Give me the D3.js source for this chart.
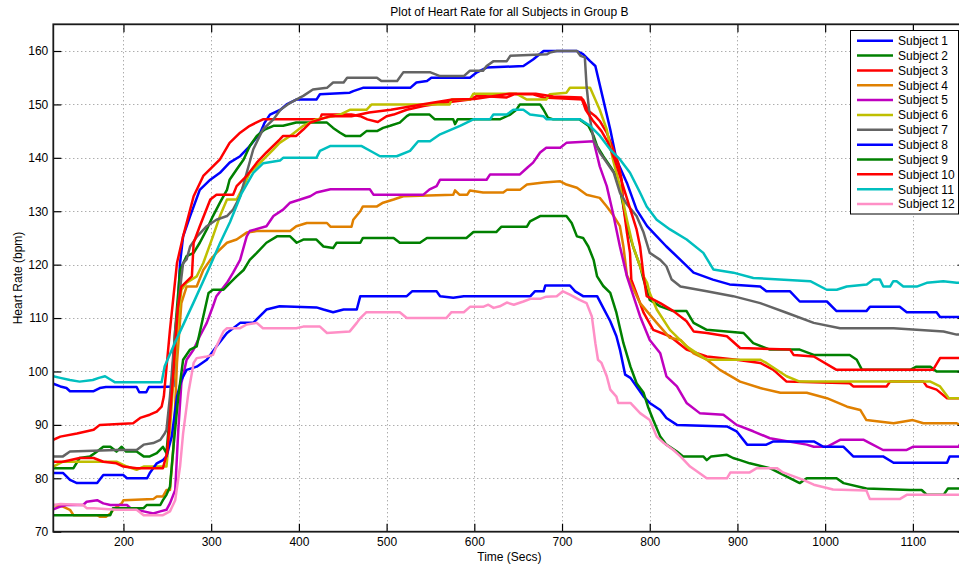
<!DOCTYPE html>
<html>
<head>
<meta charset="utf-8">
<script src="https://cdn.jsdelivr.net/npm/d3@7"></script>
<style>
  html, body { margin: 0; padding: 0; background: #fff; }
  svg { display: block; font-family: "Liberation Sans", Arial, Helvetica, sans-serif; }
</style>
</head>
<body>
<svg id="chart" width="959" height="567"></svg>
<script>
// Heart rate traces, [time in seconds, heart rate in bpm]
const subject01 = [[120,97.7],[128,97.2],[135,96.9],[139,96.3],[166,96.3],[173,96.9],[180,97.1],[215,97.1],[218,96.1],[226,96.1],[229,97.1],[242,97.1],[257,97.2],[260.7,107.8],[264.5,120.3],[268,125.3],[276,129.1],[287,134],[299,135.9],[310,137.2],[321,139.1],[333,140.3],[344,142.2],[356,144.7],[361,146.6],[367,148.1],[379,149],[386,150],[397,150.9],[420,150.9],[424,151.9],[458,152.2],[462,152.5],[473,153.1],[527,153.1],[534,154.1],[546,154.4],[551,155],[595,155],[603,156],[614,156.9],[656,157.2],[667,158.4],[679,160],[717,160],[724,159.4],[732,158.1],[738,157.2],[747,150.9],[755,145.3],[762,139.7],[774,135.3],[785,130.3],[797,127.2],[808,125.3],[819,123.4],[835,120.9],[850,118.5],[872,117.2],[891,116.3],[926,115.9],[933,115],[960,115],[971,113.1],[1002,113.1],[1013,111.3],[1047,111.3],[1051,112.1],[1085,112.1],[1093,111.1],[1127,111.1],[1131,110.2],[1160,110.2]];

const subject02 = [[120,81.9],[143,81.9],[150,83.8],[162,84.1],[170,85],[177,85.9],[185,85.9],[192,85],[198,85.9],[203,85],[215,85],[223,84.1],[230,84.1],[238,84.7],[245,85.9],[249,84.7],[253,92.2],[259,107.8],[264.5,119],[272,121.6],[280,122.2],[287,124.1],[295,126.6],[302,129.1],[310,131.6],[318,134],[321,135.9],[329,137.8],[337,139.7],[344,142.2],[352,144.1],[361,145.3],[371,146],[382,146],[397,146.6],[432,146.6],[439,145.6],[447,144.7],[453,144.1],[470,144.1],[477,145],[489,145],[496,145.6],[504,146],[515,146.6],[523,147.8],[526,148.1],[549,148.1],[555,147.2],[576,147.2],[578,146.3],[581,147.2],[629,147.2],[641,148.1],[648,149],[652,150],[675,150],[679,149],[684,147.5],[690,147.2],[720,147.2],[730,146],[736,144.1],[740,142.2],[747,140.3],[755,138.4],[762,136.6],[766,134.1],[770,130.9],[774,127.2],[781,123.4],[789,119.7],[793,117.2],[800,113.4],[812,112.2],[827,111.3],[842,111.3],[850,109.1],[865,107.8],[907,107.2],[918,105.3],[937,104.1],[971,104.1],[987,103.1],[1028,103.1],[1036,102.2],[1042,100.3],[1097,100.3],[1104,100.9],[1120,100.9],[1127,100],[1160,100]];

const subject03 = [[120,87.2],[128,87.8],[147,88.4],[166,89.1],[173,90],[211,90.3],[219,91.3],[230,91.9],[238,92.5],[243.5,93.4],[246,95.3],[253,107.8],[261,120.3],[268,125.3],[280,132.8],[291,136.6],[302,138.4],[310,139.7],[321,142.8],[333,144.7],[344,146],[359,147.2],[424,147.2],[426,148.1],[460,148.1],[470,147.8],[478,147.2],[490,146.7],[500,147.8],[508,148.1],[523,149],[542,149.7],[565,150.3],[595,150.9],[603,151.6],[637,151.3],[645,151.9],[667,151.9],[679,151.3],[724,150.9],[730,148.8],[738,147.8],[743,146.9],[751,144.7],[757,142.2],[764,139.1],[768,135.9],[770,130.9],[774,126],[777.5,122.2],[779,117.2],[793,111],[804,107.8],[823,106.6],[842,104.1],[865,102.8],[899,102.2],[926,101.6],[941,100.3],[956,98.1],[1028,97.8],[1032,97.2],[1070,97.2],[1074,98.1],[1112,98.1],[1116,97.2],[1127,96.6],[1139,95],[1160,95]];

const subject04 = [[120,75],[131,74.7],[139,74.1],[143,73.1],[170,73.1],[173,72.8],[180,72.8],[185,73.4],[190,74.4],[198,75.3],[200,75.9],[234,76.1],[238,76.6],[245,76.6],[249,77.8],[253,77.8],[257,85.9],[261,101.6],[266,112.8],[272,115.9],[283.5,115.9],[291,119],[299,120.9],[306,122.2],[318,124.1],[329,124.7],[340.5,126],[352,126.3],[390,126.3],[397,127.2],[409,127.8],[432,127.8],[436,127.1],[460,127.1],[462,128.4],[470,130],[473,130.9],[489,130.9],[496,131.6],[508,132.2],[519,132.8],[576,133.1],[578,133.9],[583,133.1],[592,133.1],[595,133.9],[610,133.5],[633,133.5],[637,134],[652,134],[660,135],[679,135.4],[698,135.6],[705,135],[717,134.4],[728,133.1],[743,132.5],[751,130.9],[759,129.1],[766,127.2],[770,123.4],[774,118],[789,112.8],[808,109.1],[823,106.3],[835,105.9],[850,103.4],[865,102.2],[880,100.3],[903,98.1],[926,96.9],[949,96],[979,96],[1002,95],[1025,93.4],[1040,92.8],[1047,90.9],[1078,90.3],[1100,90.9],[1112,90.3],[1150,90.3],[1160,89.4]];

const subject05 = [[120,74.2],[128,74.7],[135,75],[154,75],[158,75.6],[170,75.9],[177,75.3],[185,75],[204,75],[208,74.4],[223,73.8],[234,73.4],[242,73.8],[249,74.1],[253,75.3],[259,77.8],[262.5,89],[266,97.8],[272,102.2],[280,104.1],[287,106.6],[295,109.1],[302,112.2],[306,114.1],[318,116.6],[325,118.5],[333,120.9],[340.5,125.3],[344,126.3],[363,127.2],[371,129.1],[382,130.3],[390,131.6],[413,132.8],[420,133.5],[436,134.1],[481,134.1],[485,133.1],[542,133.1],[549,134.1],[557,134.7],[561,135.9],[614,135.9],[618,136.9],[652,136.9],[660,138.1],[667,139.1],[675,141],[682,141.9],[698,141.9],[705,142.8],[736,143.1],[743,138.4],[751,134.7],[758,129.7],[766,123.4],[774,117.8],[789,110.3],[800,105.9],[812,103.4],[819,99.1],[831,97.2],[842,94.1],[857,92.2],[884,91.9],[899,90],[918,88.8],[937,87.5],[979,86.3],[987,85.9],[1002,85.9],[1017,87.2],[1044,87.2],[1051,86.6],[1066,85.3],[1093,85.3],[1100,85.9],[1152,85.9],[1160,88.1]];

const subject06 = [[120,82.2],[131,83.1],[192,83.1],[204,82.2],[215,81.6],[223,82.2],[249,82.2],[253,89],[261,107.8],[266,115.3],[272,116.6],[283.5,117.8],[291,120.3],[302,125.3],[310,129.1],[318,132.2],[329,132.2],[337,134.7],[344,137.2],[356,139.1],[371,141.6],[378,142.8],[390,144.1],[405,146],[420,147.2],[439,147.8],[447,148.1],[458,149],[477,149],[483,150],[572,150],[574,150.9],[595,150.9],[599,152],[648,152],[660,150.9],[682,150.9],[686,151.9],[705,152.2],[709,153.1],[732,153.1],[736,151.6],[743,149],[751,145.3],[758,139.7],[766,134.7],[774,128.4],[781,123.4],[789,119.7],[793,117.8],[797,116.6],[800,114.7],[808,111.6],[823,107.8],[842,104.7],[865,102.2],[926,102.2],[933,101.6],[956,99.1],[971,98.1],[1120,98.1],[1131,97.2],[1141,95],[1160,95]];

const subject07 = [[120,84.1],[131,84.1],[139,85],[192,85.3],[215,85.3],[223,86.3],[234,86.6],[242,87.2],[247,88.4],[249,89],[253,95.3],[259,107.8],[268,120.3],[272,121],[276,123.4],[284,125.3],[295,127.2],[306,128.4],[318,129.1],[325,130.3],[333,132.8],[340.5,137.2],[348,141.6],[359,145.3],[371,147.2],[379,149],[390,150.3],[405,151.6],[416,152.8],[432,153.1],[439,154.1],[451,154.1],[455,155],[489,155],[494,154.4],[512,154.4],[519,156],[550,156],[561,155.3],[588,155.3],[595,156.3],[610,156.3],[614,157.2],[622,158.1],[637,158.1],[641,159.1],[683,159.4],[686,159.7],[694,160],[717,160],[721,159.1],[726,158.8],[728,153.4],[732,147.2],[736,143.4],[743,141],[751,139.1],[759,137.2],[766,133.5],[774,131.3],[785,129.1],[793,126],[800,122.2],[812,120.9],[819,119.7],[825,117.2],[835,115.9],[865,115],[895,114.1],[926,112.8],[956,111],[987,109.1],[1017,108.1],[1078,108.1],[1135,107.5],[1150,106.9],[1160,106.9]];

const subject08 = [[120,81],[131,81],[139,79.7],[147,79.1],[170,79.1],[177,80.6],[200,80.6],[204,80],[227,80],[230,81],[238,82.8],[245,83.4],[249,84.1],[255,87.8],[261,95.3],[266,98.4],[272,100.3],[283.5,100.9],[295,102.2],[306,104.7],[318,107.2],[333,109.1],[348,109.1],[363,111.6],[378,112.2],[420,112],[428,111.6],[439,111.1],[451,111.6],[466,111.6],[470,114.1],[523,114.1],[529,115],[557,115],[561,114.1],[576,113.8],[588,114.1],[664,114.1],[669,115],[679,115],[681,116.1],[709,116.1],[715,115],[724,114.1],[740,114.1],[747,111.9],[755,109.4],[762,106.6],[766,104.1],[772,99.4],[778,98.8],[785,97.2],[793,95.3],[800,94.1],[812,92.8],[819,91.3],[831,90],[888,89.7],[899,88.8],[911,86.3],[933,86.3],[941,86.9],[987,86.9],[998,85.9],[1021,85.9],[1032,84.1],[1066,84.1],[1078,82.9],[1139,82.9],[1142,84.1],[1160,84.1]];

const subject09 = [[120,73.1],[185,73.1],[188,74.4],[223,74.4],[226.5,75],[242,75],[245,75.9],[249,76.9],[253,78.4],[257,85.9],[262.5,95.3],[268,102.2],[276,104.1],[283.5,104.7],[291,110.3],[297,114.7],[302,115.3],[314,115.3],[321.5,116.6],[329,117.8],[337,119],[344,120.9],[352,122.2],[363,124.1],[375,125.3],[390,125.3],[397.5,124.1],[405,124.7],[420,124.7],[428,123.4],[439,123.1],[443,124.1],[470,124.1],[473,125],[508,125],[515,124.1],[538,124.1],[546,125],[591,125],[599,126.1],[625,126.1],[631,127.1],[660,127.1],[663.5,128.1],[675,129.1],[705,129.1],[711,127.8],[717,125.3],[724,125],[730,123.4],[736,120.9],[740,117.8],[747,116],[755,114.7],[762,111],[770,105.3],[778,100.9],[785,97.8],[793,96],[798,93.4],[804,90.9],[812,87.8],[819,86.3],[831,85],[838,84.1],[861,84.1],[865,83.4],[870,84.1],[888,84.4],[895,83.8],[903,83.4],[914,82.8],[937,81.9],[971,79.1],[979,80],[1013,80],[1021,79.1],[1047,78.1],[1097,77.8],[1110,77.8],[1116,76.9],[1135,76.9],[1140,78.1],[1160,78.1]];

const subject10 = [[120,83.1],[131,83.1],[150,83.8],[166,83.8],[177,83.1],[192,82.8],[200,82.2],[215,81.9],[245,81.9],[250,85],[257,100],[262,112],[266,115.9],[278,117.8],[280,124.1],[287,127.2],[299,132.2],[306,133.1],[325,133.1],[329,134.7],[340.5,136.6],[352,139.1],[363,141],[378,143.4],[382,144.1],[397,144.1],[405,145.3],[413,146.6],[424,147.2],[436,147.8],[460,147.8],[480,148.5],[505,149],[540,150],[575,150.9],[600,151],[640,152],[670,152],[690,151.5],[722,151.3],[727,149],[735,147],[745,145],[752,143],[760,139.7],[766,136.6],[785,126.6],[789,123.4],[793,117.8],[796.5,114.1],[812,112.8],[827,111.3],[842,109.4],[850,107.5],[865,107.2],[888,106.6],[903,104.4],[960,104.1],[964,103.1],[987,102.8],[1013,100.3],[1123,100.3],[1131,102.5],[1160,102.5]];

const subject11 = [[120,99.1],[128,98.8],[139,98.4],[150,98.1],[165,98.4],[172,98.8],[179,99.1],[186,98.4],[190,98],[243.5,98],[247,101],[258.7,105.4],[279.6,112.8],[296.7,119],[310,124],[321.5,128],[334.8,133.4],[348,137.2],[359.4,139],[378.5,139.5],[382,140],[420,140],[424,141.3],[435.5,142.2],[471.6,142.2],[484.8,141],[492.5,140.3],[511.5,140.3],[526.7,141.3],[536,143.1],[549.5,143.1],[561,144.4],[583.7,146],[598.9,147.2],[617.9,147.2],[621.7,148.1],[637,148.1],[644.5,149],[655.9,149],[663.5,148.1],[678.7,147.8],[682.5,147.2],[720.5,147.2],[731.9,146],[743.3,144.1],[754.7,141.6],[766.1,139.7],[777.5,137.2],[788.9,133.5],[796.5,130.9],[807.9,128.4],[823.1,126.6],[842.1,124.7],[861.1,122.2],[872.5,119.1],[895.3,118.5],[918.1,117.5],[983,116.9],[1001.8,115.3],[1013.2,115.3],[1024.6,115.9],[1047.4,116.3],[1054.9,117.2],[1062.5,117.2],[1066.3,115.9],[1074,115.9],[1077.7,116.9],[1081.5,116.9],[1089.1,115.9],[1104.4,115.9],[1115.8,116.6],[1134.7,116.9],[1150,116.6],[1160,116.6]];

const subject12 = [[120,75],[128,75.2],[154,75],[158,74.4],[166,74.4],[192,74.1],[215,74.1],[223,73.1],[245,73.1],[253,73.8],[259,75.9],[264.5,82.2],[268,88.4],[274,96],[280,101.6],[283.5,102.5],[295,102.8],[302,103.1],[306,104.7],[314,107.5],[318,108.1],[333,108.1],[340.5,108.8],[352,109.1],[359,108.1],[397,108.1],[405,108.4],[424,108.4],[432,107.2],[458,107.5],[466,109.1],[470,110],[477,111.1],[515,111.1],[523,110],[568,110],[574,111.1],[588,111.1],[595,112.1],[610,112.1],[616,112.5],[622,111.9],[629,112.2],[637,112.9],[645,112.5],[656,113.1],[664,113.6],[675,113.6],[682,114],[694,114.1],[701,115],[709,114.4],[720,113.4],[728,112.8],[734,110.3],[738,105.3],[741,102.2],[745,101.6],[751,99.1],[755,96.6],[762,95.3],[764,94.1],[778,94.1],[789,92.2],[800,90.9],[808,87.8],[816,86.6],[827,85.3],[835,84.1],[846,82.2],[865,80],[888,80],[892,81.1],[914,81.1],[922,81.9],[945,81.9],[952,81.1],[975,79.7],[987,78.8],[1009,77.9],[1047,77.7],[1051,76.1],[1085,76.1],[1093,76.9],[1160,76.9]];

const subjectNames = ["Subject 1","Subject 2","Subject 3","Subject 4","Subject 5","Subject 6",
                      "Subject 7","Subject 8","Subject 9","Subject 10","Subject 11","Subject 12"];
const subjectData = [subject01, subject02, subject03, subject04, subject05, subject06,
                     subject07, subject08, subject09, subject10, subject11, subject12];
const xTicks = [200, 300, 400, 500, 600, 700, 800, 900, 1000, 1100];
const yTicks = [70, 80, 90, 100, 110, 120, 130, 140, 150, 160];

// Line colours, one per subject
const palette = ["#0000ff","#008000","#ff0000","#e08000","#bf00bf","#bfbf00",
                 "#646464","#0000ff","#008000","#ff0000","#00bfbf","#ff8fc6"];

const svg = d3.select("#chart");
const plot = { left: 53.3, right: 965.5, top: 24.3, bottom: 531.7 };

const x = d3.scaleLinear().domain([120, 1160]).range([plot.left, plot.right]);
const y = d3.scaleLinear().domain([70, 165]).range([plot.bottom, plot.top]);

svg.append("defs").append("clipPath").attr("id", "plot-clip")
  .append("rect")
  .attr("x", plot.left).attr("y", plot.top)
  .attr("width", plot.right - plot.left).attr("height", plot.bottom - plot.top);

// Dotted grid
const grid = svg.append("g").attr("stroke", "#8a8a8a").attr("stroke-width", 1)
  .attr("stroke-dasharray", "1,3");
grid.selectAll("line.gx").data(xTicks).join("line")
  .attr("x1", d => Math.round(x(d)) + 0.5).attr("x2", d => Math.round(x(d)) + 0.5)
  .attr("y1", plot.top).attr("y2", plot.bottom);
grid.selectAll("line.gy").data(yTicks.filter(d => d > 70)).join("line")
  .attr("y1", d => Math.round(y(d)) + 0.5).attr("y2", d => Math.round(y(d)) + 0.5)
  .attr("x1", plot.left).attr("x2", plot.right);

// Heart-rate traces
const line = d3.line().x(d => x(d[0])).y(d => y(d[1]));
const traces = svg.append("g").attr("clip-path", "url(#plot-clip)");
traces.selectAll("path").data(subjectData).join("path")
  .attr("d", line)
  .attr("fill", "none")
  .attr("stroke", (d, i) => palette[i])
  .attr("stroke-width", 2.5)
  .attr("stroke-linejoin", "round");

// Axes with inward ticks on all four sides
const tickLen = 8;
const fmt = d3.format("d");
const axisFont = g => g.selectAll("text")
  .attr("font-family", "'Liberation Sans', Arial, Helvetica, sans-serif")
  .attr("font-size", 12).attr("fill", "#000");

svg.append("g").attr("transform", `translate(0,${plot.bottom})`)
  .call(d3.axisBottom(x).tickValues(xTicks).tickFormat(fmt).tickSizeInner(-tickLen).tickSizeOuter(0).tickPadding(6))
  .call(axisFont)
  .call(g => g.select(".domain").remove())
  .call(g => g.selectAll(".tick line").attr("stroke-width", 1.2));

svg.append("g").attr("transform", `translate(0,${plot.top})`)
  .call(d3.axisTop(x).tickValues(xTicks).tickSizeInner(-tickLen).tickSizeOuter(0).tickFormat(""))
  .call(g => g.select(".domain").remove())
  .call(g => g.selectAll(".tick line").attr("stroke-width", 1.2));

svg.append("g").attr("transform", `translate(${plot.left},0)`)
  .call(d3.axisLeft(y).tickValues(yTicks).tickFormat(fmt).tickSizeInner(-tickLen).tickSizeOuter(0).tickPadding(5))
  .call(axisFont)
  .call(g => g.select(".domain").remove())
  .call(g => g.selectAll(".tick line").attr("stroke-width", 1.2));

svg.append("g").attr("transform", `translate(${plot.right},0)`)
  .call(d3.axisRight(y).tickValues(yTicks).tickSizeInner(-tickLen).tickSizeOuter(0).tickFormat(""))
  .call(g => g.select(".domain").remove());

// Axis box
svg.append("rect")
  .attr("x", plot.left).attr("y", plot.top)
  .attr("width", plot.right - plot.left).attr("height", plot.bottom - plot.top)
  .attr("fill", "none").attr("stroke", "#1a1a1a").attr("stroke-width", 1.8);

// Titles
const cx = (plot.left + plot.right) / 2;
svg.append("text").attr("x", cx).attr("y", 15.5).attr("text-anchor", "middle")
  .attr("font-size", 12).text("Plot of Heart Rate for all Subjects in Group B");
svg.append("text").attr("x", cx).attr("y", 561).attr("text-anchor", "middle")
  .attr("font-size", 12).text("Time (Secs)");
svg.append("text")
  .attr("transform", `translate(22,${(plot.top + plot.bottom) / 2}) rotate(-90)`)
  .attr("text-anchor", "middle").attr("font-size", 12).text("Heart Rate (bpm)");

// Legend
const legend = svg.append("g");
legend.append("rect").attr("x", 850.5).attr("y", 30.5).attr("width", 108).attr("height", 183.5)
  .attr("fill", "#fff").attr("stroke", "#000").attr("stroke-width", 1);
const rowH = 14.85;
const rows = legend.selectAll("g.row").data(subjectNames).join("g")
  .attr("transform", (d, i) => `translate(0,${40.7 + i * rowH})`);
rows.append("line").attr("x1", 857).attr("x2", 893).attr("y1", 0).attr("y2", 0)
  .attr("stroke", (d, i) => palette[i]).attr("stroke-width", 2.5);
rows.append("text").attr("x", 898).attr("y", 4.3).attr("font-size", 12).text(d => d);
</script>
</body>
</html>
